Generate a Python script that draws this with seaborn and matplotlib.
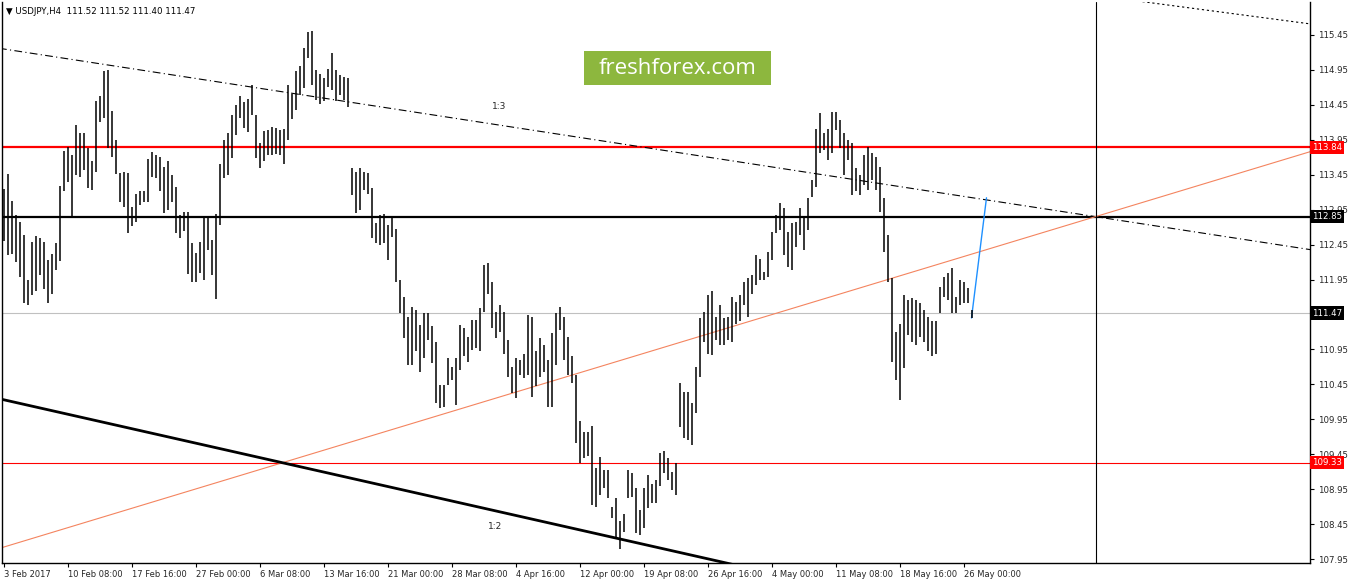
import numpy as np
import pandas as pd
import seaborn as sns
import matplotlib.pyplot as plt
import matplotlib.transforms as mtransforms
from matplotlib.patches import Rectangle

sns.set_theme(style="white")
plt.rcParams["font.family"] = ["DejaVu Sans"]

# H4 bars (every other bar), high / low
highs = [
    113.25, 113.46, 113.07, 112.87, 112.77, 112.59, 111.94, 112.49, 112.58, 112.54,
    112.49, 112.23, 112.32, 112.47, 113.29, 113.79, 113.84, 113.73, 114.16, 114.04,
    114.04, 113.83, 113.64, 114.50, 114.57, 114.93, 114.95, 114.36, 113.95, 113.48,
    113.49, 113.47, 112.99, 113.17, 113.22, 113.22, 113.68, 113.77, 113.73, 113.71,
    113.56, 113.64, 113.45, 113.28, 112.87, 112.91, 112.92, 112.47, 112.33, 112.49,
    112.83, 112.85, 112.52, 112.89, 113.61, 113.95, 114.04, 114.30, 114.45, 114.57,
    114.49, 114.53, 114.73, 114.31, 113.90, 114.07, 114.09, 114.14, 114.12, 114.09,
    114.11, 114.73, 114.61, 114.93, 115.00, 115.26, 115.49, 115.51, 114.95, 114.89,
    114.83, 114.97, 115.19, 114.95, 114.88, 114.85, 114.83, 113.54, 113.49, 113.54,
    113.49, 113.47, 113.26, 112.76, 112.87, 112.89, 112.73, 112.85, 112.68, 111.94,
    111.70, 111.42, 111.56, 111.51, 111.30, 111.47, 111.47, 111.28, 111.06, 110.44,
    110.44, 110.82, 110.70, 110.82, 111.30, 111.25, 111.13, 111.37, 111.37, 111.54,
    112.16, 112.18, 111.92, 111.49, 111.59, 111.49, 111.08, 110.70, 110.82, 110.80,
    110.89, 111.44, 111.42, 110.92, 111.11, 111.01, 110.80, 111.18, 111.47, 111.56,
    111.42, 111.13, 110.85, 110.58, 109.92, 109.77, 109.77, 109.85, 109.25, 109.41,
    109.22, 109.22, 108.70, 108.82, 108.49, 108.60, 109.22, 109.18, 108.96, 108.65,
    108.96, 109.15, 109.03, 109.08, 109.47, 109.49, 109.39, 109.20, 109.32, 110.47,
    110.34, 110.34, 110.18, 110.70, 111.40, 111.49, 111.73, 111.78, 111.42, 111.59,
    111.40, 111.42, 111.70, 111.63, 111.73, 111.92, 111.97, 112.02, 112.30, 112.25,
    112.06, 112.35, 112.63, 112.87, 113.04, 112.97, 112.63, 112.76, 112.78, 112.97,
    112.85, 113.11, 113.38, 114.11, 114.33, 114.04, 114.11, 114.35, 114.35, 114.23,
    114.04, 113.95, 113.90, 113.54, 113.45, 113.73, 113.84, 113.76, 113.71, 113.56,
    113.11, 112.59, 111.97, 111.20, 111.32, 111.73, 111.66, 111.68, 111.66, 111.61,
    111.51, 111.42, 111.35, 111.35, 111.85, 111.99, 112.04, 112.11, 111.70, 111.94,
    111.92, 111.83, 111.52,
]
lows = [
    112.50, 112.30, 112.31, 112.20, 111.99, 111.61, 111.59, 111.73, 111.79, 112.02,
    111.82, 111.61, 111.74, 112.09, 112.21, 113.22, 113.35, 112.83, 113.45, 113.42,
    113.52, 113.26, 113.23, 113.49, 114.21, 114.26, 113.83, 113.71, 113.46, 113.06,
    112.99, 112.61, 112.72, 112.78, 113.02, 113.06, 113.06, 113.42, 113.40, 113.21,
    112.90, 112.95, 113.06, 112.61, 112.54, 112.65, 112.03, 111.92, 111.91, 112.04,
    111.94, 112.37, 112.02, 111.67, 112.73, 113.40, 113.45, 113.69, 114.02, 114.26,
    114.12, 114.06, 114.30, 113.69, 113.54, 113.64, 113.73, 113.73, 113.75, 113.73,
    113.61, 113.95, 114.25, 114.38, 114.59, 114.69, 115.12, 114.73, 114.52, 114.46,
    114.50, 114.71, 114.66, 114.50, 114.59, 114.52, 114.42, 113.16, 112.90, 112.95,
    113.23, 113.18, 112.54, 112.47, 112.44, 112.47, 112.23, 112.56, 111.92, 111.47,
    111.11, 110.73, 110.73, 110.92, 110.63, 110.82, 111.09, 110.75, 110.18, 110.11,
    110.13, 110.44, 110.51, 110.16, 110.66, 110.85, 110.77, 110.94, 110.97, 110.92,
    111.49, 111.75, 111.25, 111.11, 111.20, 110.89, 110.56, 110.32, 110.25, 110.58,
    110.54, 110.58, 110.27, 110.42, 110.56, 110.63, 110.13, 110.13, 110.73, 111.23,
    110.80, 110.58, 110.47, 109.61, 109.32, 109.39, 109.42, 108.72, 108.70, 108.87,
    108.96, 108.82, 108.53, 108.25, 108.10, 108.34, 108.82, 108.84, 108.32, 108.29,
    108.39, 108.68, 108.75, 108.75, 108.99, 109.18, 109.08, 108.94, 108.87, 109.84,
    109.68, 109.65, 109.58, 110.04, 110.56, 111.06, 110.89, 110.87, 111.09, 111.01,
    111.01, 111.09, 111.06, 111.32, 111.35, 111.59, 111.42, 111.75, 111.87, 111.94,
    111.94, 111.99, 112.23, 112.61, 112.66, 112.30, 112.13, 112.09, 112.42, 112.59,
    112.37, 112.66, 113.13, 113.28, 113.76, 113.80, 113.66, 113.76, 114.09, 113.83,
    113.45, 113.66, 113.16, 113.21, 113.16, 113.30, 113.23, 113.38, 113.23, 112.92,
    112.35, 111.92, 110.77, 110.51, 110.23, 110.68, 111.16, 111.06, 111.01, 111.13,
    111.06, 110.92, 110.85, 110.89, 111.47, 111.70, 111.66, 111.47, 111.47, 111.59,
    111.61, 111.61, 111.40,
]

time_labels = ["3 Feb 2017", "10 Feb 08:00", "17 Feb 16:00", "27 Feb 00:00",
               "6 Mar 08:00", "13 Mar 16:00", "21 Mar 00:00", "28 Mar 08:00",
               "4 Apr 16:00", "12 Apr 00:00", "19 Apr 08:00", "26 Apr 16:00",
               "4 May 00:00", "11 May 08:00", "18 May 16:00", "26 May 00:00"]
label_bars = [0, 32, 64, 96, 128, 160, 192, 224, 256, 288, 320, 352, 384, 416, 448, 480]

price_ticks = [107.95, 108.45, 108.95, 109.45, 109.95, 110.45, 110.95, 111.45,
               111.95, 112.45, 112.95, 113.45, 113.95, 114.45, 114.95, 115.45]
hidden_tick = 111.45  # sits under the current price box

# horizontal levels
levels = [113.84, 112.85, 111.47, 109.33]
level_colors = ["#ff0000", "#000000", "#c0c0c0", "#ff0000"]
level_widths = [1.6, 1.6, 0.8, 0.8]
box_colors = ["#ff0000", "#000000", "#000000", "#ff0000"]

# trend lines as two anchor points (bar index, price)
line13_bars, line13_prices = [0, 546], [115.25, 112.85]
channel_bars, channel_prices = [574, 653], [115.91, 115.61]
salmon_bars, salmon_prices = [0, 546], [108.12, 112.85]
line12_bars, line12_prices = [0, 300], [110.23, 108.29]
blue_bars, blue_prices = [484, 491.5], [111.40, 113.12]
vline_bar = 546

x_lo, x_hi = -0.75, 653.25
y_lo, y_hi = 107.893, 115.922


def ray(bars, prices):
    slope = (prices[1] - prices[0]) / (bars[1] - bars[0])
    xs = [x_lo - 2, x_hi + 2]
    return pd.DataFrame({"bar": xs, "price": [prices[0] + slope * (x - bars[0]) for x in xs]})


fig = plt.figure(figsize=(13.5, 5.84), dpi=100)
ax = fig.add_axes([2 / 1350, 21 / 584, 1308 / 1350, 561 / 584])

bar_x = np.arange(len(highs)) * 2
ax.vlines(bar_x, lows, highs, colors="black", linewidth=1.1, zorder=3)

for lvl, c, w in zip(levels, level_colors, level_widths):
    ax.axhline(lvl, color=c, linewidth=w, zorder=2)

sns.lineplot(data=ray(line13_bars, line13_prices), x="bar", y="price", ax=ax,
             color="black", linewidth=0.8, linestyle=(0, (7, 3, 1, 3)))
sns.lineplot(data=ray(channel_bars, channel_prices), x="bar", y="price", ax=ax,
             color="black", linewidth=0.8, linestyle=(0, (2, 2.5)))
sns.lineplot(data=ray(salmon_bars, salmon_prices), x="bar", y="price", ax=ax,
             color="#f4845f", linewidth=0.8)
sns.lineplot(data=ray(line12_bars, line12_prices), x="bar", y="price", ax=ax,
             color="black", linewidth=2.0)
sns.lineplot(data=pd.DataFrame({"bar": blue_bars, "price": blue_prices}), x="bar", y="price",
             ax=ax, color="#1e90ff", linewidth=1.0)
ax.axvline(vline_bar, color="black", linewidth=0.8)

ax.text(248, 114.43, "1:3", fontsize=6.5, ha="center", va="center")
ax.text(246, 108.41, "1:2", fontsize=6.5, ha="center", va="center")

ax.set_xlim(x_lo, x_hi)
ax.set_ylim(y_lo, y_hi)
ax.set_xlabel("")
ax.set_ylabel("")
ax.grid(False)

ax.set_xticks(label_bars)
ax.set_xticklabels(time_labels, ha="left", fontsize=6)
ax.yaxis.tick_right()
ax.set_yticks(price_ticks)
ax.set_yticklabels(["" if p == hidden_tick else f"{p:.2f}" for p in price_ticks], fontsize=6.2)
ax.tick_params(axis="x", direction="out", length=3, width=0.8, pad=2, color="black", bottom=True)
ax.tick_params(axis="y", direction="out", length=3, width=0.8, pad=2.5, color="black", right=True, left=False)

for side in ["left", "bottom", "right"]:
    ax.spines[side].set_visible(True)
    ax.spines[side].set_color("black")
    ax.spines[side].set_linewidth(1.0)
ax.spines["top"].set_visible(False)

trans = mtransforms.blended_transform_factory(ax.transAxes, ax.transData)
for lvl, c in zip(levels, box_colors):
    ax.text(1.0015, lvl, f"{lvl:.2f}", transform=trans, ha="left", va="center",
            color="white", fontsize=6.2, clip_on=False, zorder=10,
            bbox=dict(boxstyle="square,pad=0.25", fc=c, ec="none"))

# watermark
fig.patches.append(Rectangle((584 / 1350, 499 / 584), 187 / 1350, 34 / 584,
                             transform=fig.transFigure, facecolor="#8db73e",
                             edgecolor="none", zorder=20))
fig.text(677.5 / 1350, 516 / 584, "freshforex.com", family=["Open Sans", "DejaVu Sans"],
         fontsize=16, color="white", ha="center", va="center", zorder=21)

fig.text(6 / 1350, 1 - 11 / 584, "\u25bc USDJPY,H4  111.52 111.52 111.40 111.47",
         fontsize=6.2, ha="left", va="center", color="black")

fig.savefig("out.png", dpi=100, facecolor="white")
